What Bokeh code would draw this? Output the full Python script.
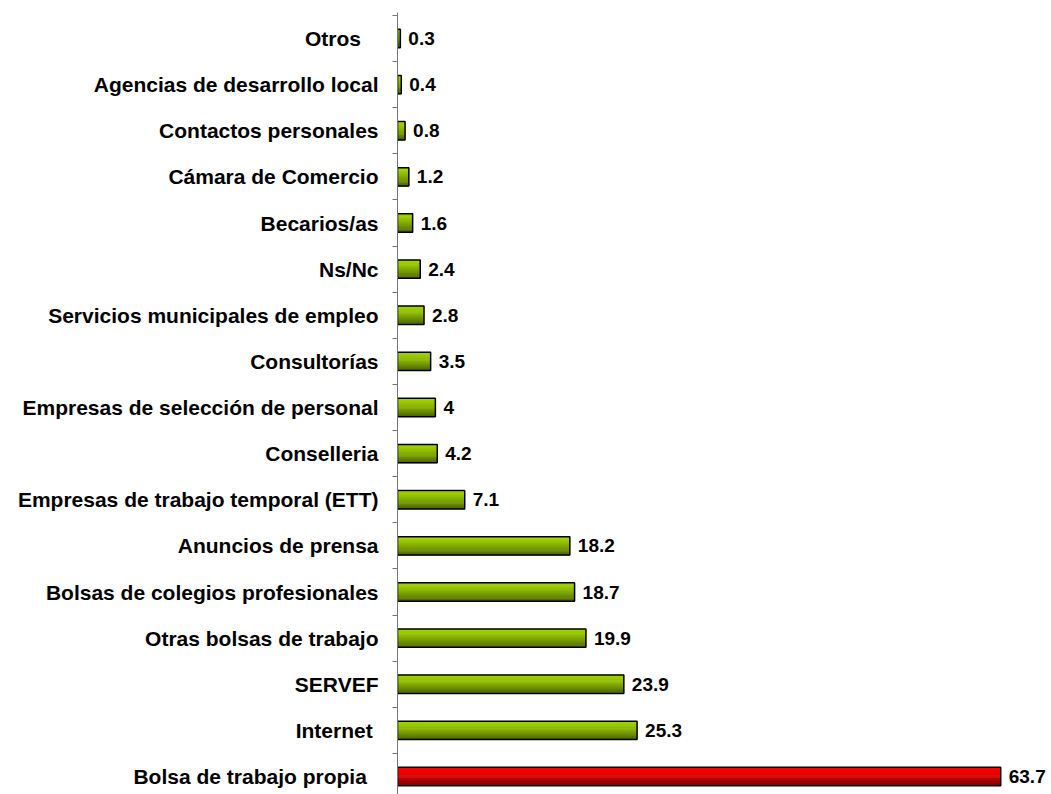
from bokeh.plotting import figure
from bokeh.models import Range1d, FixedTicker, ColumnDataSource
from bokeh.core.properties import value
from bokeh.embed import file_html
from bokeh.resources import INLINE

categories = ["Bolsa de trabajo propia  ", "Internet ", "SERVEF", "Otras bolsas de trabajo",
              "Bolsas de colegios profesionales", "Anuncios de prensa",
              "Empresas de trabajo temporal (ETT)", "Conselleria",
              "Empresas de selección de personal", "Consultorías",
              "Servicios municipales de empleo", "Ns/Nc", "Becarios/as",
              "Cámara de Comercio", "Contactos personales",
              "Agencias de desarrollo local", "Otros   "]
values = [63.7, 25.3, 23.9, 19.9, 18.7, 18.2, 7.1, 4.2, 4, 3.5, 2.8, 2.4, 1.6, 1.2, 0.8, 0.4, 0.3]
labels = ["63.7", "25.3", "23.9", "19.9", "18.7", "18.2", "7.1", "4.2", "4", "3.5", "2.8",
          "2.4", "1.6", "1.2", "0.8", "0.4", "0.3"]
highlight = [True] + [False] * 16

FONT = "Liberation Sans"
pos = list(range(len(categories)))

p = figure(width=1051, height=794, output_backend="svg", toolbar_location=None,
           x_range=Range1d(0, 69.06), y_range=Range1d(-0.39, 16.564),
           min_border_left=397, min_border_top=12, min_border_bottom=0, min_border_right=0)
p.outline_line_color = None
p.xgrid.visible = False
p.ygrid.visible = False
p.xaxis.visible = False

# gradient bars built from horizontal slices
H = 0.4
N = 20
green_top, green_bot = (160, 210, 0), (72, 96, 0)
red_top, red_bot = (255, 0, 0), (120, 0, 0)

def mix(a, b, t):
    return "#%02x%02x%02x" % tuple(int(round(a[i] + (b[i] - a[i]) * t)) for i in range(3))

for k in range(N):
    t = (k + 0.5) / N
    tt = t ** 1.6
    off = H / 2 - (k + 0.5) * H / N
    cols = [mix(red_top, red_bot, tt) if h else mix(green_top, green_bot, tt) for h in highlight]
    src = ColumnDataSource(dict(y=[i + off for i in pos], right=values, color=cols))
    p.hbar(y="y", left=0, right="right", height=H / N * 1.6, fill_color="color",
           line_color=None, source=src)

outline = ColumnDataSource(dict(y=pos, right=values, lab=labels))
p.hbar(y="y", left=0, right="right", height=H, fill_color=None, line_color="black",
       line_width=1.5, source=outline)

p.text(x="right", y="y", text="lab", source=outline, x_offset=8,
       text_font=value(FONT), text_font_style="bold", text_font_size="19px",
       text_baseline="middle", text_align="left", text_color="black")

ax = p.yaxis[0]
ax.ticker = FixedTicker(ticks=pos, minor_ticks=[i - 0.5 for i in pos] + [16.5])
ax.major_label_overrides = {i: c for i, c in zip(pos, categories)}
ax.major_tick_line_color = None
ax.major_tick_out = 0
ax.major_tick_in = 0
ax.minor_tick_line_color = "#777777"
ax.minor_tick_out = 5
ax.minor_tick_in = 0
ax.axis_line_color = "#777777"
ax.axis_line_width = 1
ax.major_label_standoff = 14
ax.major_label_text_font = FONT
ax.major_label_text_font_style = "bold"
ax.major_label_text_font_size = "21px"
ax.major_label_text_color = "black"

open("out.html", "w").write(file_html(p, INLINE))
